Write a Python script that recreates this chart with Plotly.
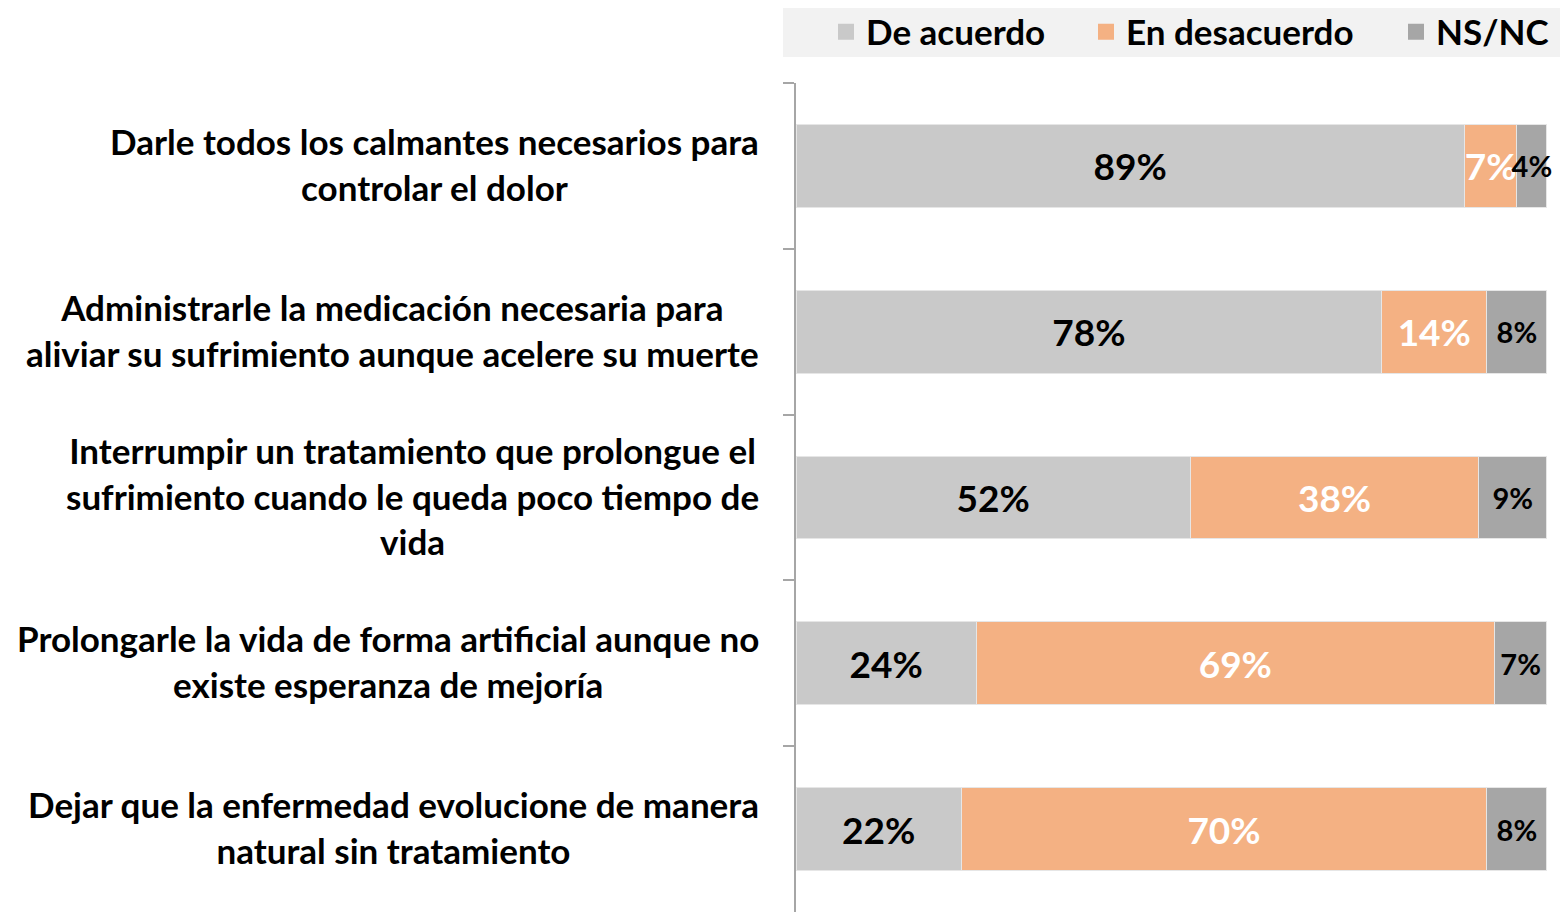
import plotly.graph_objects as go

categories = [
    "Darle todos los calmantes necesarios para<br>controlar el dolor",
    "Administrarle la medicación necesaria para<br>aliviar su sufrimiento aunque acelere su muerte",
    "Interrumpir un tratamiento que prolongue el<br>sufrimiento cuando le queda poco tiempo de<br>vida",
    "Prolongarle la vida de forma artificial aunque no<br>existe esperanza de mejoría",
    "Dejar que la enfermedad evolucione de manera<br>natural sin tratamiento",
]
cat_ids = ["c1", "c2", "c3", "c4", "c5"]

de_acuerdo = [89, 78, 52, 24, 22]
en_desacuerdo = [7, 14, 38, 69, 70]
ns_nc = [4, 8, 9, 7, 8]

series_names = ["De acuerdo", "En desacuerdo", "NS/NC"]
colors = ["#c9c9c9", "#f4b183", "#a6a6a6"]

W, H = 1560, 912
ML, MR, MT, MB = 796, 13, 83, 0
PW, PH = W - ML - MR, H - MT - MB
FONT = "Lato"

def px_x(p):
    return (p - ML) / PW

def px_y(p):
    return (H - MB - p) / PH

fig = go.Figure()

series = [de_acuerdo, en_desacuerdo, ns_nc]
text_colors = ["black", "white", "black"]
text_sizes = [37, 37, 29]
legends = ["legend", "legend2", "legend3"]
for name, vals, col, tc, ts, lg in zip(series_names, series, colors, text_colors, text_sizes, legends):
    fig.add_trace(go.Bar(
        name=name,
        y=cat_ids,
        x=vals,
        orientation="h",
        marker=dict(color=col, line=dict(color="#e6e6e6", width=1)),
        text=[f"{v}%" for v in vals],
        textposition="inside",
        insidetextanchor="middle",
        textangle=0,
        constraintext="none",
        cliponaxis=False,
        textfont=dict(family=FONT, color=tc, size=ts, weight="bold"),
        showlegend=False,
        hoverinfo="skip",
    ))
    # legend entry with a larger square swatch
    fig.add_trace(go.Scatter(
        name=name, x=[None], y=[None], mode="markers",
        marker=dict(symbol="square", color=col, size=16),
        legend=lg, showlegend=True, hoverinfo="skip",
    ))

fig.update_layout(
    width=W, height=H,
    margin=dict(l=ML, r=MR, t=MT, b=MB),
    barmode="stack",
    barnorm="percent",
    bargap=0.5,
    plot_bgcolor="white",
    paper_bgcolor="white",
    font=dict(family=FONT, color="black"),
    showlegend=True,
)

fig.update_xaxes(range=[0, 100.01], visible=False, showgrid=False, zeroline=False)
fig.update_yaxes(
    categoryorder="array", categoryarray=cat_ids, autorange="reversed",
    showticklabels=False, showgrid=False, zeroline=False,
    showline=True, linecolor="#a6a6a6", linewidth=1.5,
    ticks="outside", tickson="boundaries", ticklen=11, tickcolor="#a6a6a6", tickwidth=1.5,
)

for cid, label in zip(cat_ids, categories):
    fig.add_annotation(
        x=px_x(761), xref="paper", y=cid, yref="y",
        text=label, showarrow=False, xanchor="right", yanchor="middle",
        align="center", yshift=2,
        font=dict(family=FONT, size=35, color="black", weight="bold"),
    )

# legend background
fig.add_shape(type="rect", xref="paper", yref="paper",
              x0=px_x(783), x1=px_x(1560), y0=px_y(57), y1=px_y(8),
              fillcolor="#f2f2f2", line=dict(width=0), layer="below")

leg_x = [826, 1086, 1396]
common = dict(orientation="h", yanchor="middle", y=px_y(32), xanchor="left",
              bgcolor="rgba(0,0,0,0)", font=dict(family=FONT, size=35, color="black", weight="bold"),
              itemclick=False, itemdoubleclick=False)
fig.update_layout(
    legend=dict(x=px_x(leg_x[0]), **common),
    legend2=dict(x=px_x(leg_x[1]), **common),
    legend3=dict(x=px_x(leg_x[2]), **common),
)

fig.write_html("out.html",
               config={"displayModeBar": False},
               post_script="document.body.style.margin='0';document.body.style.overflow='hidden';")
